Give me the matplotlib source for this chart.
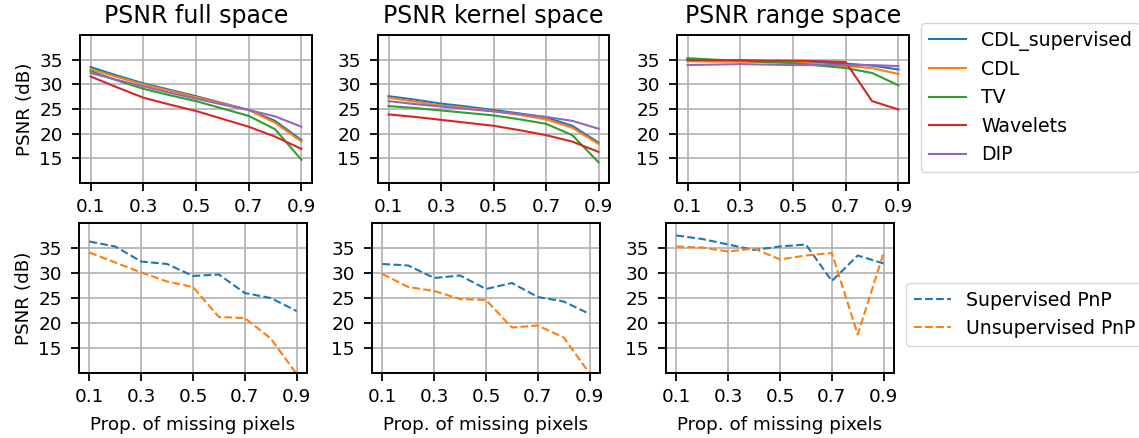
import matplotlib
matplotlib.use("Agg")
import matplotlib.pyplot as plt
import numpy as np

plt.rcParams['font.family'] = ['DejaVu Sans']
plt.rcParams['font.size'] = 13.2
plt.rcParams['xtick.major.size'] = 6
plt.rcParams['ytick.major.size'] = 6
plt.rcParams['xtick.major.width'] = 1.3
plt.rcParams['ytick.major.width'] = 1.3
plt.rcParams['xtick.major.pad'] = 5
plt.rcParams['ytick.major.pad'] = 6.5

# proportion of missing pixels
props = [0.1, 0.2, 0.3, 0.4, 0.5, 0.6, 0.7, 0.8, 0.9]

methods = ['CDL_supervised', 'CDL', 'TV', 'Wavelets', 'DIP']
pnp_methods = ['Supervised PnP', 'Unsupervised PnP']
titles = ['PSNR full space', 'PSNR kernel space', 'PSNR range space']

# PSNR (dB), full space
full_cdl_sup = [33.5, 31.8, 30.2, 28.9, 27.6, 26.2, 24.8, 22.6, 18.7]
full_cdl = [33.1, 31.5, 30.0, 28.7, 27.4, 26.1, 24.8, 22.2, 18.4]
full_tv = [32.7, 30.8, 29.1, 27.8, 26.6, 25.1, 23.6, 20.9, 14.7]
full_wav = [31.6, 29.4, 27.3, 25.9, 24.6, 23.0, 21.4, 19.4, 16.9]
full_dip = [32.3, 30.9, 29.6, 28.3, 27.1, 25.9, 24.8, 23.5, 21.4]

# PSNR (dB), kernel space
ker_cdl_sup = [27.6, 26.9, 26.1, 25.5, 24.8, 24.1, 23.3, 21.6, 18.2]
ker_cdl = [27.3, 26.5, 25.7, 25.2, 24.6, 23.8, 22.9, 21.2, 17.9]
ker_tv = [25.6, 25.2, 24.7, 24.2, 23.7, 22.9, 22.0, 19.7, 14.2]
ker_wav = [23.9, 23.4, 22.8, 22.2, 21.6, 20.7, 19.7, 18.4, 16.3]
ker_dip = [26.6, 26.0, 25.5, 25.0, 24.5, 24.0, 23.4, 22.6, 21.0]

# PSNR (dB), range space
rng_cdl_sup = [35.1, 34.9, 34.8, 34.6, 34.5, 34.4, 34.2, 33.8, 33.0]
rng_cdl = [34.7, 34.6, 34.6, 34.5, 34.5, 34.1, 33.7, 33.3, 32.1]
rng_tv = [35.3, 35.0, 34.8, 34.5, 34.3, 33.8, 33.3, 32.3, 29.8]
rng_wav = [34.9, 34.9, 34.9, 34.8, 34.8, 34.7, 34.5, 26.6, 24.9]
rng_dip = [33.9, 34.0, 34.1, 34.0, 33.9, 33.9, 33.9, 33.9, 33.7]

# plug-and-play results
pnp_full_sup = [36.3, 35.3, 32.3, 31.8, 29.4, 29.7, 26.0, 25.0, 22.4]
pnp_full_unsup = [34.1, 32.1, 30.1, 28.3, 27.2, 21.2, 21.0, 16.9, 9.8]
pnp_ker_sup = [31.8, 31.5, 29.0, 29.5, 26.8, 28.0, 25.2, 24.3, 21.8]
pnp_ker_unsup = [29.8, 27.2, 26.4, 24.8, 24.6, 19.1, 19.5, 17.1, 9.9]
pnp_rng_sup = [37.5, 36.8, 35.7, 34.6, 35.3, 35.7, 28.4, 33.5, 31.9]
pnp_rng_unsup = [35.3, 35.1, 34.3, 34.9, 32.7, 33.5, 34.0, 17.7, 34.0]

top_data = [
    [full_cdl_sup, full_cdl, full_tv, full_wav, full_dip],
    [ker_cdl_sup, ker_cdl, ker_tv, ker_wav, ker_dip],
    [rng_cdl_sup, rng_cdl, rng_tv, rng_wav, rng_dip],
]
bottom_data = [
    [pnp_full_sup, pnp_full_unsup],
    [pnp_ker_sup, pnp_ker_unsup],
    [pnp_rng_sup, pnp_rng_unsup],
]

W, H = 1139, 438
fig = plt.figure(figsize=(W / 100, H / 100), dpi=100)


def box(x0, x1, y0, y1):
    return [x0 / W, 1 - y1 / H, (x1 - x0) / W, (y1 - y0) / H]


top_boxes = [box(80, 312, 35, 183), box(378, 609, 35, 183), box(677, 909, 35, 183)]
bot_boxes = [box(79, 307, 223, 373), box(372, 600, 223, 373), box(666, 894, 223, 373)]

colors = ['tab:blue', 'tab:orange', 'tab:green', 'tab:red', 'tab:purple']


def style(ax):
    ax.set_ylim(10, 40)
    ax.set_xticks([0.1, 0.3, 0.5, 0.7, 0.9])
    ax.set_yticks([15, 20, 25, 30, 35])
    ax.grid(True, linewidth=1.2)
    ax.set_axisbelow(True)
    for s in ax.spines.values():
        s.set_linewidth(1.4)


top_axes = []
for i in range(3):
    ax = fig.add_axes(top_boxes[i])
    for j, vals in enumerate(top_data[i]):
        ax.plot(props, vals, color=colors[j], label=methods[j])
    ax.set_title(titles[i], fontsize=17, pad=9)
    style(ax)
    top_axes.append(ax)
top_axes[0].set_ylabel('PSNR (dB)')

bot_axes = []
for i in range(3):
    ax = fig.add_axes(bot_boxes[i])
    for j, vals in enumerate(bottom_data[i]):
        ax.plot(props, vals, '--', color=colors[j], label=pnp_methods[j])
    ax.set_xlabel('Prop. of missing pixels', labelpad=7)
    style(ax)
    bot_axes.append(ax)
bot_axes[0].set_ylabel('PSNR (dB)')

top_axes[2].legend(loc='upper left', bbox_to_anchor=(921 / W, 1 - 23 / H),
                   bbox_transform=fig.transFigure, borderaxespad=0, fontsize=13.6)
bot_axes[2].legend(loc='upper left', bbox_to_anchor=(906 / W, 1 - 283 / H),
                   bbox_transform=fig.transFigure, borderaxespad=0, fontsize=13.6)

fig.savefig('out.png', dpi=100)
